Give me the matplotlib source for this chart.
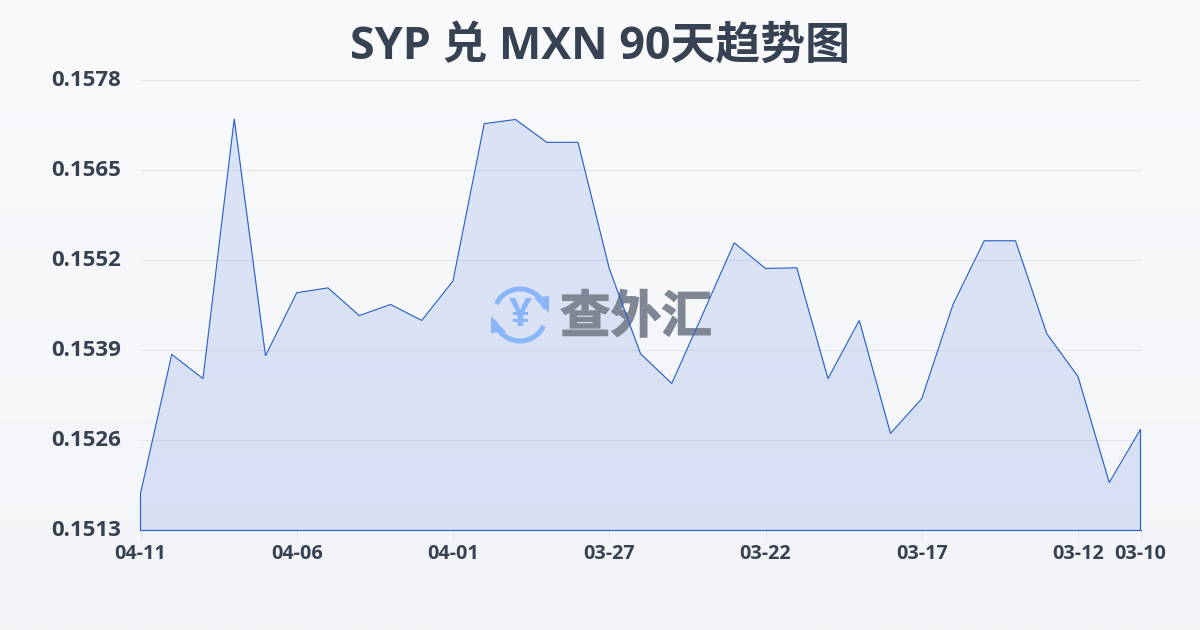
import numpy as np
import matplotlib
matplotlib.use("Agg")
import matplotlib.pyplot as plt
import matplotlib.patheffects as pe
from matplotlib.patches import Arc, Polygon
from matplotlib.transforms import Affine2D, ScaledTranslation

title = "SYP 兑 MXN 90天趋势图"
watermark = "查外汇"
rates = [0.15183, 0.15384, 0.15349, 0.15724, 0.15382, 0.15473, 0.15480, 0.15440,
         0.15456, 0.15433, 0.15490, 0.15717, 0.15723, 0.15690, 0.15690, 0.15508,
         0.15385, 0.15342, 0.15443, 0.15545, 0.15508, 0.15509, 0.15349, 0.15433,
         0.15270, 0.15320, 0.15456, 0.15548, 0.15548, 0.15414, 0.15352, 0.15199,
         0.15276]
x_tick_pos = [0, 5, 10, 15, 20, 25, 30, 32]
x_tick_labels = ["04-11", "04-06", "04-01", "03-27", "03-22", "03-17", "03-12", "03-10"]
y_ticks = [0.1513, 0.1526, 0.1539, 0.1552, 0.1565, 0.1578]

W, H = 1200, 630
TXT = "#364152"
LATIN = ["Open Sans", "Noto Sans CJK SC", "DejaVu Sans"]
fig = plt.figure(figsize=(W / 100, H / 100), dpi=100)

bg = fig.add_axes([0, 0, 1, 1], zorder=0)
bg.axis("off")
top, bot = np.array([0xf9, 0xfa, 0xfc]) / 255, np.array([0xf2, 0xf4, 0xf7]) / 255
grad = np.linspace(0, 1, 256)[:, None, None] * (bot - top) + top
bg.imshow(grad, aspect="auto", extent=[0, 1, 0, 1], origin="upper")

L, R, T, B = 140.5, 1140.5, 80, 530.4
ax = fig.add_axes([L / W, 1 - B / H, (R - L) / W, (B - T) / H], zorder=1)
ax.patch.set_alpha(0)
x = np.arange(len(rates))
ax.set_xlim(0, len(rates) - 1)
ax.set_ylim(y_ticks[0], y_ticks[-1])

ax.fill_between(x, rates, y_ticks[0], color="#3a6be0", alpha=0.15, lw=0, zorder=2)
ax.plot(np.r_[x[0], x, x[-1]], np.r_[y_ticks[0], rates, y_ticks[0]],
        color="#2f62c8", lw=0.85, zorder=4, clip_on=False, solid_joinstyle="miter")
ax.plot([x[0], x[-1]], [y_ticks[0], y_ticks[0]], color="#2f62c8", lw=0.85, zorder=4, clip_on=False)

for s in ax.spines.values():
    s.set_visible(False)
ax.set_yticks(y_ticks)
ax.set_yticklabels([f"{v:.4f}" for v in y_ticks], fontsize=16, fontweight="bold",
                   color=TXT, family=LATIN)
ax.tick_params(axis="y", length=0, pad=14)
up = ScaledTranslation(0, 2 / 72 * 72 / 100, fig.dpi_scale_trans)
for lab in ax.get_yticklabels():
    lab.set_transform(lab.get_transform() + up)
ax.set_xticks(x_tick_pos)
ax.set_xticklabels(x_tick_labels, fontsize=14.2, fontweight="bold", color=TXT, family=LATIN)
ax.tick_params(axis="x", length=7, width=0.8, color="#e2e5ea", pad=3)
ax.grid(axis="y", color="#e1e5ea", lw=0.8, zorder=1)
ax.set_axisbelow(True)

fig.text(600 / W, 1 - 47 / H, title, ha="center", va="center", fontsize=32.3,
         fontweight="bold", color=TXT, family=["Open Sans", "Noto Sans CJK SC", "DejaVu Sans"])

px = Affine2D().scale(1, -1).translate(0, H)
ICON = "#8ab6f9"
ax.text(636, 318, watermark, transform=px, ha="center", va="center", fontsize=36.5,
        fontweight="black", color="#7f8694", family=["Noto Sans CJK SC"], zorder=3,
        path_effects=[pe.withStroke(linewidth=1.0, foreground="#7f8694")])
cx, cy = 520, 315
for t1, t2 in [(205, 345), (25, 165)]:
    ax.add_patch(Arc((cx, cy), 52, 52, theta1=t1, theta2=t2, transform=px, color=ICON,
                     lw=3.6, zorder=3, clip_on=False))
ax.add_patch(Polygon([[534, 298], [549, 296], [549, 313]], closed=True, transform=px,
                     color=ICON, lw=0, zorder=3))
ax.add_patch(Polygon([[491, 316], [491, 333], [506, 332]], closed=True, transform=px,
                     color=ICON, lw=0, zorder=3))
ax.text(cx, cy, "¥", transform=px, ha="center", va="center", fontsize=29,
        fontweight="bold", color=ICON, family=["Open Sans"], zorder=3)

fig.savefig("out.png", dpi=100)
